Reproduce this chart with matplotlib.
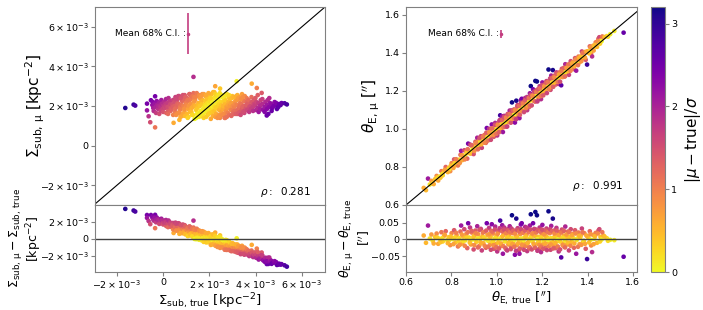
import numpy as np
import matplotlib
matplotlib.use("Agg")
import matplotlib.pyplot as plt
from matplotlib.ticker import FuncFormatter, FixedLocator
from matplotlib.colors import Normalize
import matplotlib.cm as cm

# ---------------- data ----------------
# Left panel: Sigma_sub true / predicted (units of 1e-3 kpc^-2)
sig_true = [
    -1.64, -1.28, -1.21, -0.70, -0.53, -0.35, -0.70, -0.63, -0.56, -0.35, 1.31, 2.25, 2.46, 3.18, 3.83, 4.05, 4.26,
    0.45, 0.70, 2.46, 2.68, 4.48, 4.55,
    -0.47, -0.43, -0.45, -0.41, -0.38, -0.32, -0.28, -0.31, -0.27, -0.22, -0.18, -0.21, -0.17,
    -0.12, -0.08, -0.11, -0.07, 0.01, -0.02, 0.03, 0.00, 0.04, 0.08, 0.12, 0.09, 0.13, 0.11,
    0.18, 0.22, 0.19, 0.23, 0.21, 0.28, 0.32, 0.29, 0.33, 0.31, 0.38, 0.42, 0.39, 0.43, 0.41,
    0.48, 0.52, 0.49, 0.53, 0.51, 0.58, 0.62, 0.59, 0.63, 0.61, 0.68, 0.72, 0.69, 0.73, 0.71,
    0.78, 0.82, 0.79, 0.83, 0.81, 0.88, 0.92, 0.89, 0.93, 0.91, 0.98, 1.02, 0.99, 1.03, 1.01,
    1.08, 1.12, 1.09, 1.13, 1.11, 1.18, 1.22, 1.19, 1.23, 1.21, 1.28, 1.32, 1.29, 1.33, 1.31,
    1.38, 1.42, 1.39, 1.43, 1.41, 1.48, 1.52, 1.49, 1.53, 1.51, 1.58, 1.62, 1.59, 1.63, 1.61,
    1.68, 1.72, 1.69, 1.73, 1.71, 1.78, 1.82, 1.79, 1.83, 1.81, 1.88, 1.92, 1.89, 1.93, 1.91,
    1.98, 2.02, 1.99, 2.03, 2.01, 2.08, 2.12, 2.09, 2.13, 2.11, 2.18, 2.22, 2.19, 2.23, 2.21,
    2.28, 2.32, 2.29, 2.33, 2.31, 2.38, 2.42, 2.39, 2.43, 2.41, 2.48, 2.52, 2.49, 2.53, 2.51,
    2.58, 2.62, 2.59, 2.63, 2.61, 2.68, 2.72, 2.69, 2.73, 2.71, 2.78, 2.82, 2.79, 2.83, 2.81,
    2.88, 2.92, 2.89, 2.93, 2.91, 2.98, 3.02, 2.99, 3.03, 3.01, 3.08, 3.12, 3.09, 3.13, 3.11,
    3.18, 3.22, 3.19, 3.23, 3.21, 3.28, 3.32, 3.29, 3.33, 3.31, 3.38, 3.42, 3.39, 3.43, 3.41,
    3.48, 3.52, 3.49, 3.53, 3.51, 3.58, 3.62, 3.59, 3.63, 3.61, 3.68, 3.72, 3.69, 3.73,
    3.78, 3.82, 3.79, 3.83, 3.88, 3.92, 3.89, 3.93, 3.98, 4.02, 3.99, 4.03, 4.08, 4.12, 4.09, 4.13,
    4.18, 4.22, 4.19, 4.28, 4.32, 4.29, 4.38, 4.42, 4.39, 4.48, 4.52, 4.49, 4.58, 4.62, 4.59,
    4.68, 4.72, 4.69, 4.78, 4.82, 4.88, 4.92, 4.89, 4.98, 5.02, 5.08, 5.12, 5.25, 5.35,
    0.55, 0.56, 0.65, 0.66, 0.75, 0.76, 0.85, 0.86, 0.95, 0.96, 1.05, 1.06, 1.15, 1.16, 1.25, 1.26,
    1.35, 1.36, 1.45, 1.46, 1.55, 1.56, 1.65, 1.66, 1.75, 1.76, 1.85, 1.86, 1.95, 1.96, 2.05, 2.06,
    2.15, 2.16, 2.25, 2.26, 2.35, 2.36, 2.45, 2.44, 2.55, 2.56, 2.65, 2.66, 2.75, 2.76, 2.85, 2.86,
    2.95, 2.96, 3.05, 3.06, 3.15, 3.16, 3.25, 3.26, 3.35, 3.36, 3.45, 3.46,
]
sig_mu = [
    1.90, 2.07, 2.02, 2.12, 2.29, 2.49, 1.78, 1.48, 1.18, 0.92, 3.47, 3.00, 2.88, 3.25, 3.13, 2.91, 2.66,
    1.15, 1.30, 1.40, 1.40, 1.52, 1.60,
    2.05, 1.90, 2.20, 1.75, 2.10, 1.95, 2.25, 1.65, 2.05, 1.85, 2.15, 2.00, 1.60,
    1.95, 2.30, 1.75, 2.10, 2.05, 1.85, 2.20, 1.70, 1.95, 1.90, 2.35, 2.10, 1.65, 2.00,
    2.15, 1.80, 1.95, 2.40, 1.60, 2.00, 1.75, 2.25, 1.90, 2.10, 1.85, 2.30, 2.05, 1.55, 1.95,
    2.20, 1.70, 2.00, 2.45, 1.85, 1.95, 2.15, 1.60, 2.35, 2.05, 2.10, 1.80, 2.50, 1.95, 1.65,
    1.90, 2.25, 2.05, 1.50, 2.40, 2.00, 1.75, 2.30, 2.55, 1.85, 2.15, 1.60, 1.95, 2.40, 2.05,
    1.85, 2.25, 1.45, 2.60, 2.00, 2.10, 1.70, 2.35, 1.90, 2.50, 1.95, 2.20, 1.55, 2.05, 2.65,
    2.30, 1.80, 2.00, 1.40, 2.45, 1.90, 2.15, 2.55, 1.65, 2.05, 2.00, 1.75, 2.40, 2.20, 1.50,
    2.10, 1.85, 2.60, 1.60, 2.30, 1.95, 2.25, 1.70, 2.50, 2.05, 2.00, 1.80, 2.35, 1.55, 2.15,
    2.10, 1.90, 2.45, 1.65, 2.25, 1.85, 2.20, 2.60, 1.70, 2.00, 2.05, 1.75, 2.40, 1.95, 2.70,
    1.90, 2.30, 1.60, 2.15, 2.50, 2.00, 1.80, 2.35, 2.10, 1.55, 2.20, 1.70, 1.95, 2.55, 2.05,
    1.85, 2.25, 2.00, 1.60, 2.40, 2.10, 1.75, 2.30, 1.95, 2.60, 1.90, 2.20, 1.65, 2.45, 2.05,
    2.00, 1.80, 2.35, 2.15, 1.55, 2.15, 1.85, 2.50, 1.70, 2.00, 1.95, 2.25, 1.75, 2.40, 2.10,
    2.05, 1.80, 2.30, 1.60, 2.55, 1.90, 2.15, 2.45, 1.70, 2.00, 2.10, 1.85, 2.35, 1.95, 2.60,
    2.00, 1.75, 2.25, 2.50, 1.65, 1.90, 2.20, 2.05, 1.80, 2.40, 2.15, 1.70, 2.30, 1.95,
    2.00, 2.45, 1.85, 2.20, 1.95, 2.30, 1.75, 2.10, 2.05, 1.80, 2.40, 2.20, 1.90, 2.15, 2.55, 1.70,
    2.00, 2.30, 1.85, 2.10, 1.80, 2.35, 1.95, 2.20, 1.70, 2.05, 2.30, 1.85, 1.95, 2.15, 2.40,
    2.10, 1.90, 1.75, 2.00, 2.20, 2.05, 1.85, 2.15, 1.95, 2.10, 2.05, 2.15, 2.14, 2.08,
    2.35, 1.55, 2.50, 1.65, 1.45, 2.40, 2.55, 1.60, 1.50, 2.45, 2.30, 1.40, 2.60, 1.70, 1.55, 2.50,
    2.45, 1.35, 2.65, 1.60, 1.45, 2.55, 2.50, 1.50, 1.40, 2.60, 2.55, 1.45, 1.60, 2.65, 2.40, 1.35,
    1.50, 2.70, 2.60, 1.45, 1.40, 2.55, 2.65, 1.50, 1.55, 2.45, 2.50, 1.40, 1.45, 2.60, 2.55, 1.55,
    1.50, 2.40, 2.45, 1.60, 1.60, 2.50, 2.40, 1.65, 1.55, 2.35, 2.45, 1.70,
]
sig_err = 1.15          # typical 1-sigma (1e-3 kpc^-2)
sig_ci_x, sig_ci_y, sig_ci_half = 1.08, 5.65, 1.04
rho_sig = "0.281"

# Right panel: theta_E true and residual (arcsec)
th_true = [
    0.678, 0.688, 0.697, 0.705, 0.712, 0.718, 0.728, 0.735, 0.742, 0.748, 0.756, 0.762, 0.768, 0.775, 0.781,
    0.788, 0.795, 0.801, 0.806, 0.812, 0.818, 0.823, 0.829, 0.835, 0.840, 0.843, 0.848, 0.852, 0.857, 0.861,
    0.866, 0.870, 0.874, 0.878, 0.882, 0.886, 0.890, 0.894, 0.898, 0.902, 0.906, 0.910, 0.914, 0.918, 0.922,
    0.926, 0.930, 0.934, 0.937, 0.941, 0.945, 0.949, 0.952, 0.956, 0.959, 0.963, 0.966, 0.970, 0.973, 0.976,
    0.978, 0.981, 0.984, 0.987, 0.990, 0.993, 0.996, 0.999, 1.002, 1.005, 1.008, 1.011, 1.015, 1.018, 1.021,
    1.024, 1.027, 1.030, 1.033, 1.036, 1.039, 1.042, 1.045, 1.048, 1.051, 1.054, 1.057, 1.060, 1.063, 1.067,
    1.070, 1.073, 1.076, 1.080, 1.083, 1.086, 1.089, 1.092, 1.095, 1.098, 1.100, 1.103, 1.106, 1.110, 1.113,
    1.116, 1.119, 1.122, 1.125, 1.128, 1.131, 1.134, 1.137, 1.140, 1.143, 1.146, 1.150, 1.153, 1.156, 1.160,
    1.163, 1.166, 1.170, 1.173, 1.177, 1.180, 1.183, 1.186, 1.189, 1.192, 1.195, 1.198, 1.201, 1.204, 1.207,
    1.210, 1.213, 1.216, 1.219, 1.222, 1.228, 1.231, 1.234, 1.237, 1.240, 1.243, 1.247, 1.250, 1.253, 1.256,
    1.260, 1.263, 1.266, 1.270, 1.273, 1.276, 1.280, 1.284, 1.287, 1.291, 1.295, 1.298, 1.302, 1.306, 1.310,
    1.314, 1.318, 1.322, 1.326, 1.330, 1.335, 1.340, 1.345, 1.350, 1.355, 1.360, 1.365, 1.370, 1.375, 1.380,
    1.386, 1.392, 1.398, 1.404, 1.410, 1.416, 1.420, 1.424, 1.430, 1.436, 1.442, 1.448, 1.452, 1.457, 1.462,
    1.470, 1.485, 1.500, 1.518, 1.559,
    0.915, 0.928, 0.943, 0.958, 0.968, 0.983, 0.995, 1.007, 1.016, 1.026, 1.035, 1.047, 1.056, 1.066, 1.078,
    1.088, 1.097, 1.108, 1.118, 1.127, 1.138, 1.148, 1.158, 1.168, 1.178, 1.188, 1.197, 1.208, 1.218, 1.226,
    1.238, 1.248, 1.258, 1.268, 1.278, 1.289, 1.300, 1.312, 1.324, 1.338, 1.352, 1.368, 1.384, 1.400, 1.414,
    0.852, 0.868, 0.884, 0.897, 0.760, 0.790, 0.815, 0.832,
    0.722, 0.738, 0.752, 0.771, 0.784, 0.797, 0.809, 0.821, 0.837, 0.846, 0.859, 0.872, 0.881, 0.889, 0.901,
    0.908, 0.917, 0.924, 0.932, 0.939, 0.947, 0.954, 0.961, 0.967, 0.974, 0.980, 0.986, 0.992, 0.998, 1.004,
    1.010, 1.013, 1.019, 1.023, 1.029, 1.032, 1.038, 1.041, 1.046, 1.050, 1.053, 1.058, 1.062, 1.065, 1.069,
    1.072, 1.077, 1.081, 1.085, 1.090, 1.094, 1.099, 1.102, 1.107, 1.111, 1.115, 1.120, 1.124, 1.129, 1.133,
    1.136, 1.141, 1.145, 1.149, 1.154, 1.157, 1.162, 1.165, 1.169, 1.174, 1.179, 1.182, 1.187, 1.191, 1.196,
    1.200, 1.205, 1.209, 1.214, 1.217, 1.221, 1.225, 1.230, 1.235, 1.239, 1.244, 1.249, 1.254, 1.259, 1.264,
    1.269, 1.274, 1.279, 1.285, 1.290, 1.296, 1.301, 1.307, 1.313, 1.319, 1.325, 1.332, 1.342, 1.348, 1.358,
    1.363, 1.373, 1.378, 1.389, 1.395, 1.407, 1.413, 1.427, 1.433, 1.445, 1.455, 1.465, 1.475, 1.490,
]
th_resid = [
    0.012, -0.010, 0.042, 0.003, 0.015, -0.004, 0.008, 0.018, -0.013, 0.002, 0.022, -0.006, 0.011, 0.025, -0.002,
    0.007, -0.017, 0.019, 0.001, 0.028, -0.009, 0.013, -0.021, 0.004, 0.024, 0.042, -0.012, 0.009, 0.031, -0.003,
    0.017, -0.026, 0.049, 0.006, 0.036, -0.015, 0.021, 0.000, -0.030, 0.012, 0.027, -0.007, 0.040, 0.016, -0.020,
    0.004, 0.032, -0.033, 0.010, -0.011, 0.023, 0.002, -0.025, 0.049, 0.014, -0.004, 0.035, -0.016, 0.008, 0.026,
    0.046, -0.008, 0.018, -0.028, 0.003, 0.039, -0.013, 0.011, -0.036, 0.021, 0.000, 0.029, 0.057, -0.019, 0.007,
    0.043, -0.043, 0.015, 0.036, -0.006, 0.024, -0.030, 0.005, 0.031, -0.015, 0.012, 0.040, -0.002, -0.024, 0.073,
    0.019, -0.010, 0.027, -0.046, 0.009, 0.063, -0.017, 0.034, 0.002, -0.032, -0.043, 0.016, 0.045, 0.049, -0.008,
    0.023, -0.021, 0.006, 0.038, -0.013, 0.014, -0.035, 0.028, 0.001, -0.027, 0.042, 0.076, 0.011, -0.005, 0.049,
    0.020, -0.018, 0.083, 0.030, 0.073, -0.011, 0.008, -0.029, 0.036, 0.003, -0.038, 0.017, 0.044, -0.014, 0.025,
    -0.002, 0.012, -0.024, 0.033, 0.006, 0.085, -0.009, 0.019, -0.031, 0.041, 0.004, 0.063, -0.017, 0.027, 0.010,
    -0.026, 0.035, -0.004, 0.015, -0.036, 0.022, 0.002, -0.054, 0.030, -0.012, 0.011, -0.022, 0.039, 0.005, -0.015,
    0.024, -0.033, 0.008, 0.031, -0.006, 0.017, -0.025, 0.028, -0.043, 0.003, 0.021, -0.014, 0.012, 0.033, -0.008,
    0.019, -0.028, -0.059, 0.006, 0.025, -0.018, -0.038, 0.014, 0.002, 0.020, -0.010, 0.027, 0.031, 0.008, 0.000,
    0.012, 0.004, -0.001, -0.002, -0.052,
    0.003, -0.008, 0.006, -0.002, 0.009, -0.005, 0.004, -0.009, 0.002, 0.010, -0.003, 0.007, -0.011, 0.004, -0.001,
    0.009, -0.006, 0.003, -0.002, 0.008, -0.009, 0.005, -0.003, 0.010, 0.001, -0.007, 0.006, -0.004, 0.009, -0.001,
    0.004, -0.008, 0.007, 0.000, -0.006, 0.005, -0.003, 0.008, -0.010, 0.004, -0.002, 0.006, -0.004, 0.009, -0.001,
    -0.004, 0.006, -0.001, 0.008, 0.004, -0.003, 0.006, -0.006,
    -0.012, 0.006, -0.008, 0.014, -0.011, 0.009, -0.014, 0.020, -0.016, 0.015, -0.019, 0.022, -0.009, 0.026, -0.017,
    0.019, -0.024, 0.029, -0.012, 0.021, -0.019, 0.027, -0.022, 0.016, -0.031, 0.024, -0.017, 0.030, -0.023, 0.017,
    -0.027, 0.034, -0.012, 0.025, -0.020, 0.030, -0.026, 0.019, -0.033, 0.027, -0.009, 0.022, -0.029, 0.033, -0.014,
    0.026, -0.022, 0.018, -0.034, 0.029, -0.012, 0.024, -0.027, 0.031, -0.016, 0.020, -0.031, 0.027, -0.019, 0.035,
    -0.011, 0.022, -0.023, 0.030, -0.030, 0.018, -0.013, 0.032, -0.025, 0.021, -0.034, 0.028, -0.016, 0.024, -0.022,
    0.030, -0.028, 0.016, -0.012, 0.027, -0.032, 0.022, -0.020, 0.031, -0.015, 0.025, -0.027, 0.018, -0.011, 0.027,
    -0.021, 0.013, -0.030, 0.021, -0.017, 0.026, -0.024, 0.015, -0.009, 0.022, -0.019, 0.013, -0.012, 0.018, -0.022,
    0.011, -0.016, 0.022, -0.013, 0.012, -0.009, 0.016, -0.014, 0.010, 0.018, -0.006, 0.022, 0.009, -0.004,
]
th_err = 0.020
th_ci_x, th_ci_y, th_ci_half = 1.02, 1.50, 0.02
rho_th = "0.991"

cmap_name = "plasma_r"
vmax = 3.2

# ---------------- derived ----------------
st = np.array(sig_true) * 1e-3
sm = np.array(sig_mu) * 1e-3
sres = sm - st
scol = np.abs(sres) / (sig_err * 1e-3)

tt = np.array(th_true)
tr = np.array(th_resid)
tm = tt + tr
tcol = np.abs(tr) / th_err

cmap = plt.get_cmap(cmap_name)
norm = Normalize(0, vmax)
ci_color = cmap(norm(1.7))

W, H = 703, 310
fig = plt.figure(figsize=(W / 100, H / 100), dpi=100)

def box(x0, y0, x1, y1):
    return [x0 / W, 1 - y1 / H, (x1 - x0) / W, (y1 - y0) / H]

axL = fig.add_axes(box(95, 7, 325, 205))
axLr = fig.add_axes(box(95, 205, 325, 272))
axR = fig.add_axes(box(406, 7, 637, 205))
axRr = fig.add_axes(box(406, 205, 637, 272))
cax = fig.add_axes(box(651, 7, 665, 272))

TICK = 6.8
LAB = 10.5
XLAB = 9.5
RLAB = 9
SPC = "0.5"

def sci(v, pos=None):
    if abs(v) < 1e-12:
        return "0"
    m = int(round(v / 1e-3))
    sign = "-" if m < 0 else ""
    return r"$%s%d\times10^{-3}$" % (sign, abs(m))

for ax in (axL, axLr, axR, axRr):
    for s in ax.spines.values():
        s.set_color(SPC)
    ax.tick_params(colors=SPC, labelcolor="black", labelsize=TICK, length=3, width=0.8, pad=1.5)

ms = 11
# Left main
axL.scatter(st, sm, c=scol, cmap=cmap, norm=norm, s=ms, linewidths=0)
axL.plot([-3e-3, 7e-3], [-3e-3, 7e-3], color="black", lw=0.8)
axL.set_xlim(-2.95e-3, 7e-3)
axL.set_ylim(-3e-3, 7e-3)
axL.yaxis.set_major_locator(FixedLocator([-2e-3, 0, 2e-3, 4e-3, 6e-3]))
axL.yaxis.set_major_formatter(FuncFormatter(sci))
axL.xaxis.set_major_locator(FixedLocator([-2e-3, 0, 2e-3, 4e-3, 6e-3]))
axL.tick_params(labelbottom=False, bottom=False)
axL.errorbar([sig_ci_x * 1e-3], [sig_ci_y * 1e-3], yerr=[sig_ci_half * 1e-3], fmt="o", ms=1.5,
             color=ci_color, lw=1.2)
axL.text(sig_ci_x * 1e-3 - 0.12e-3, sig_ci_y * 1e-3, "Mean 68% C.I. :", fontsize=6.5,
         ha="right", va="center")
axL.text(0.94, 0.03, r"$\rho:$  " + rho_sig, transform=axL.transAxes, fontsize=7.5, ha="right", va="bottom")
axL.set_ylabel(r"$\Sigma_{\rm sub,\,\mu}$ [kpc$^{-2}$]", fontsize=LAB + 0.5)
axL.yaxis.set_label_coords(-0.21, 0.5)

# Left residual
axLr.scatter(st, sres, c=scol, cmap=cmap, norm=norm, s=ms, linewidths=0)
axLr.axhline(0, color="0.25", lw=1)
axLr.set_xlim(-2.95e-3, 7e-3)
axLr.set_ylim(-3.9e-3, 4.0e-3)
axLr.yaxis.set_major_locator(FixedLocator([-2e-3, 0, 2e-3]))
axLr.yaxis.set_major_formatter(FuncFormatter(sci))
axLr.xaxis.set_major_locator(FixedLocator([-2e-3, 0, 2e-3, 4e-3, 6e-3]))
axLr.xaxis.set_major_formatter(FuncFormatter(sci))
axLr.set_xlabel(r"$\Sigma_{\rm sub,\,true}$ [kpc$^{-2}$]", fontsize=XLAB)
axLr.xaxis.set_label_coords(0.5, -0.29)
axLr.set_ylabel(r"$\Sigma_{\rm sub,\,\mu} - \Sigma_{\rm sub,\,true}$" + "\n" + r"[kpc$^{-2}$]",
                fontsize=RLAB, linespacing=1.05)
axLr.yaxis.set_label_coords(-0.22, 0.5)

# Right main
axR.scatter(tt, tm, c=tcol, cmap=cmap, norm=norm, s=ms, linewidths=0)
axR.plot([0.6, 1.64], [0.6, 1.64], color="black", lw=0.8)
axR.set_xlim(0.6, 1.618)
axR.set_ylim(0.6, 1.642)
axR.yaxis.set_major_locator(FixedLocator([0.6, 0.8, 1.0, 1.2, 1.4, 1.6]))
axR.yaxis.set_major_formatter(FuncFormatter(lambda v, p: "%.1f" % v))
axR.xaxis.set_major_locator(FixedLocator([0.6, 0.8, 1.0, 1.2, 1.4, 1.6]))
axR.tick_params(labelbottom=False, bottom=False)
axR.errorbar([th_ci_x], [th_ci_y], yerr=[th_ci_half], fmt="o", ms=1.5, color=ci_color, lw=1.2)
axR.text(th_ci_x - 0.012, th_ci_y, "Mean 68% C.I. :", fontsize=6.5, ha="right", va="center")
axR.text(0.94, 0.06, r"$\rho:$  " + rho_th, transform=axR.transAxes, fontsize=7.5, ha="right", va="bottom")
axR.set_ylabel(r"$\theta_{\rm E,\,\mu}$ [$^{\prime\prime}$]", fontsize=LAB + 0.5)
axR.yaxis.set_label_coords(-0.105, 0.5)

# Right residual
axRr.scatter(tt, tr, c=tcol, cmap=cmap, norm=norm, s=ms, linewidths=0)
axRr.axhline(0, color="0.25", lw=1)
axRr.set_xlim(0.6, 1.618)
axRr.set_ylim(-0.098, 0.104)
axRr.yaxis.set_major_locator(FixedLocator([-0.05, 0, 0.05]))
axRr.yaxis.set_major_formatter(FuncFormatter(lambda v, p: "0" if abs(v) < 1e-9 else ("%.2f" % v).replace("-", "\u2212")))
axRr.xaxis.set_major_locator(FixedLocator([0.6, 0.8, 1.0, 1.2, 1.4, 1.6]))
axRr.xaxis.set_major_formatter(FuncFormatter(lambda v, p: "%.1f" % v))
axRr.set_xlabel(r"$\theta_{\rm E,\,true}$ [$^{\prime\prime}$]", fontsize=XLAB)
axRr.xaxis.set_label_coords(0.5, -0.25)
axRr.set_ylabel(r"$\theta_{\rm E,\,\mu} - \theta_{\rm E,\,true}$" + "\n" + r"[$^{\prime\prime}$]",
                fontsize=RLAB, linespacing=1.05)
axRr.yaxis.set_label_coords(-0.145, 0.5)

# Colorbar
sm_ = cm.ScalarMappable(norm=norm, cmap=cmap)
cb = fig.colorbar(sm_, cax=cax)
cb.set_ticks([0, 1, 2, 3])
cb.outline.set_edgecolor(SPC)
cax.tick_params(labelsize=TICK, colors=SPC, labelcolor="black", length=3, pad=1.5)
cb.set_label(r"$|\mu - \mathrm{true}|/\sigma$", fontsize=LAB + 0.5, labelpad=4)

fig.savefig("out.png", dpi=100)
